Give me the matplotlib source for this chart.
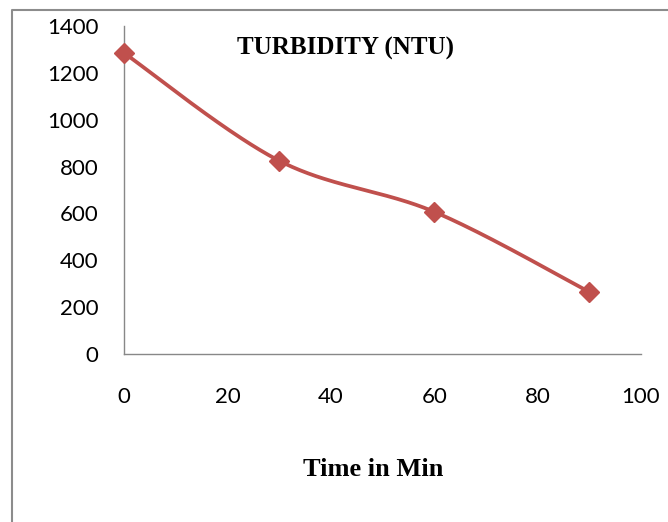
import numpy as np
import matplotlib
matplotlib.use("Agg")
import matplotlib.pyplot as plt
from matplotlib.lines import Line2D

time_min = [0, 30, 60, 90]
turbidity = [1285, 825, 607, 265]
x_ticks = [0, 20, 40, 60, 80, 100]
y_ticks = [0, 200, 400, 600, 800, 1000, 1200, 1400]
title = "TURBIDITY (NTU)"
xlabel = "Time in Min"

W, H = 668, 522
L, R, T, B = 124, 641, 26, 354
fig = plt.figure(figsize=(W / 100, H / 100), dpi=100)
ax = fig.add_axes([L / W, 1 - B / H, (R - L) / W, (B - T) / H])

xmin, xmax = 0, 100
ymin, ymax = 0, 1400
ax.set_xlim(xmin, xmax)
ax.set_ylim(ymin, ymax)

# Excel-like smoothed line (Catmull-Rom Bezier in normalized screen space)
aspect = (B - T) / (R - L)
px = (np.array(time_min, float) - xmin) / (xmax - xmin)
py = (np.array(turbidity, float) - ymin) / (ymax - ymin) * aspect
pts = np.column_stack([px, py])
n = len(pts)
curve = []
for i in range(n - 1):
    p0 = pts[i - 1] if i > 0 else pts[i]
    p1 = pts[i]
    p2 = pts[i + 1]
    p3 = pts[i + 2] if i + 2 < n else pts[i + 1]
    c1 = p1 + (p2 - p0) / 6
    c2 = p2 - (p3 - p1) / 6
    t = np.linspace(0, 1, 60)[:, None]
    seg = (1 - t) ** 3 * p1 + 3 * (1 - t) ** 2 * t * c1 + 3 * (1 - t) * t ** 2 * c2 + t ** 3 * p2
    curve.append(seg if i == 0 else seg[1:])
curve = np.vstack(curve)
cx = curve[:, 0] * (xmax - xmin) + xmin
cy = curve[:, 1] / aspect * (ymax - ymin) + ymin

red = "#C0504D"
ax.plot(cx, cy, color=red, lw=2.7, solid_capstyle="round", clip_on=False, zorder=3)
ax.plot(time_min, turbidity, ls="none", marker="D", ms=10, color=red, clip_on=False, zorder=4)

ax.set_xticks(x_ticks)
ax.set_yticks(y_ticks)
ax.set_xticklabels([str(v) for v in x_ticks])
ax.set_yticklabels([str(v) for v in y_ticks])
ax.tick_params(length=0, labelsize=16, colors="black")
ax.tick_params(axis="x", pad=24)
ax.tick_params(axis="y", pad=18.5)
for lab in ax.get_xticklabels() + ax.get_yticklabels():
    lab.set_fontfamily(["Lato", "DejaVu Sans"])

for s in ["top", "right"]:
    ax.spines[s].set_visible(False)
for s in ["left", "bottom"]:
    ax.spines[s].set_color("#888888")
    ax.spines[s].set_linewidth(1.0)

fig.text(345 / W, 1 - 48 / H, title, ha="center", va="center",
         fontsize=18, fontweight="bold", family=["Liberation Serif", "DejaVu Serif"])
fig.text(373 / W, 1 - 469 / H, xlabel, ha="center", va="center",
         fontsize=19, fontweight="bold", family=["Liberation Serif", "DejaVu Serif"])

# outer chart border (left and top visible)
fig.add_artist(Line2D([12 / W, 12 / W, 1.0], [0.0, 1 - 9.5 / H, 1 - 9.5 / H],
                      transform=fig.transFigure, color="#8c8c8c", lw=1.5))

fig.savefig("out.png", dpi=100)
